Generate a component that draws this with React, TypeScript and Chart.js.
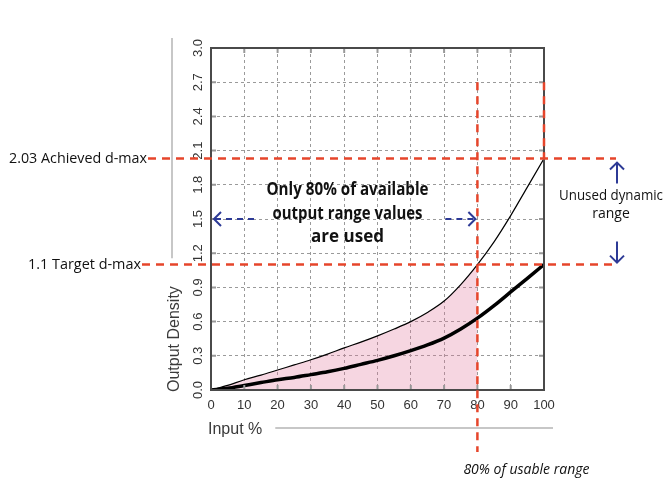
import React, { useEffect, useRef } from "react";
import { Chart, registerables } from "chart.js";

Chart.register(...registerables);

// ---- data ----
const inputPct = [0, 5, 10, 15, 20, 25, 30, 35, 40, 45, 50, 55, 60, 65, 70, 75, 80, 85, 90, 95, 100];
const achievedCurve = [0, 0.04, 0.09, 0.13, 0.175, 0.22, 0.265, 0.315, 0.37, 0.42, 0.475, 0.535, 0.6, 0.68, 0.78, 0.925, 1.1, 1.3, 1.53, 1.78, 2.03];
const targetCurve = [0, 0.015, 0.04, 0.065, 0.09, 0.11, 0.135, 0.16, 0.19, 0.225, 0.26, 0.3, 0.345, 0.395, 0.455, 0.535, 0.63, 0.74, 0.86, 0.98, 1.1];
const xTickValues = [0, 10, 20, 30, 40, 50, 60, 70, 80, 90, 100];
const yTickValues = [0, 0.3, 0.6, 0.9, 1.2, 1.5, 1.8, 2.1, 2.4, 2.7, 3.0];
const achievedDmax = 2.03;
const targetDmax = 1.1;
const usablePct = 80;
const arrowLevel = 1.5;
const centerLines = ["Only 80% of available", "output range values", "are used"];
const unusedLines = ["Unused dynamic", "range"];
const achievedLabel = "2.03 Achieved d-max";
const targetLabel = "1.1 Target d-max";
const usableLabel = "80% of usable range";
const yTitle = "Output Density";
const xTitle = "Input %";

const RED = "#e6452b";
const BLUE = "#2d3a96";
const HAND = "'Open Sans', 'Noto Sans', sans-serif";

function arrowHead(ctx: CanvasRenderingContext2D, x: number, y: number, dir: "l" | "r" | "u" | "d", s = 7) {
  ctx.save();
  ctx.setLineDash([]);
  ctx.beginPath();
  if (dir === "l") { ctx.moveTo(x + s, y - s); ctx.lineTo(x, y); ctx.lineTo(x + s, y + s); }
  if (dir === "r") { ctx.moveTo(x - s, y - s); ctx.lineTo(x, y); ctx.lineTo(x - s, y + s); }
  if (dir === "u") { ctx.moveTo(x - s, y + s); ctx.lineTo(x, y); ctx.lineTo(x + s, y + s); }
  if (dir === "d") { ctx.moveTo(x - s, y - s); ctx.lineTo(x, y); ctx.lineTo(x + s, y - s); }
  ctx.stroke();
  ctx.restore();
}

const overlay = {
  id: "overlay",
  afterDatasetsDraw(chart: any) {
    const { ctx, chartArea: ca, scales } = chart;
    const xs = scales.x, ys = scales.y;
    ctx.save();
    // inner tick marks
    ctx.strokeStyle = "#999";
    ctx.lineWidth = 2;
    yTickValues.forEach((v) => {
      const py = ys.getPixelForValue(v);
      ctx.beginPath();
      ctx.moveTo(ca.left, py); ctx.lineTo(ca.left + 5, py);
      ctx.moveTo(ca.right - 5, py); ctx.lineTo(ca.right, py);
      ctx.stroke();
    });
    xTickValues.forEach((v) => {
      const px = xs.getPixelForValue(v);
      ctx.beginPath();
      ctx.moveTo(px, ca.top); ctx.lineTo(px, ca.top + 5);
      ctx.moveTo(px, ca.bottom - 5); ctx.lineTo(px, ca.bottom);
      ctx.stroke();
    });
    // frame
    ctx.strokeStyle = "#4a4a4a";
    ctx.lineWidth = 2;
    ctx.strokeRect(ca.left, ca.top, ca.right - ca.left, ca.bottom - ca.top);

    // red dashed guide lines
    const yA = ys.getPixelForValue(achievedDmax);
    const yT = ys.getPixelForValue(targetDmax);
    const x80 = xs.getPixelForValue(usablePct);
    const x100 = xs.getPixelForValue(100);
    const yTop = ys.getPixelForValue(2.7);
    ctx.strokeStyle = RED;
    ctx.lineWidth = 2.5;
    ctx.setLineDash([8, 6]);
    const seg = (a: number, b: number, c: number, d: number) => {
      ctx.beginPath(); ctx.moveTo(a, b); ctx.lineTo(c, d); ctx.stroke();
    };
    seg(ca.left - 63, yA, ca.right + 72, yA);
    seg(ca.left - 69, yT, ca.right + 72, yT);
    seg(x80, yTop, x80, ca.bottom + 62);
    seg(x100, yTop, x100, yA);

    // blue arrows
    const yArr = ys.getPixelForValue(arrowLevel);
    ctx.strokeStyle = BLUE;
    ctx.lineWidth = 2;
    ctx.setLineDash([6, 5]);
    seg(ca.left + 4, yArr, ca.left + 48, yArr);
    arrowHead(ctx, ca.left + 3, yArr, "l");
    seg(x80 - 32, yArr, x80 - 3, yArr);
    arrowHead(ctx, x80 - 2, yArr, "r");
    ctx.setLineDash([]);
    const xa = ca.right + 73;
    seg(xa, yA + 4, xa, yA + 25);
    arrowHead(ctx, xa, yA + 4, "u");
    seg(xa, yT - 23, xa, yT - 2);
    arrowHead(ctx, xa, yT - 2, "d");
    ctx.restore();
  },
  afterDraw(chart: any) {
    const { ctx, chartArea: ca, scales } = chart;
    const xs = scales.x, ys = scales.y;
    ctx.save();
    ctx.fillStyle = "#111";
    ctx.textBaseline = "middle";
    // center annotation
    ctx.font = `bold 17px ${HAND}`;
    ctx.textAlign = "center";
    const cx = xs.getPixelForValue(41);
    const cy = [190, 214, 237];
    const cw = [162, 150, 82];
    centerLines.forEach((t, i) => ctx.fillText(t, cx, cy[i], cw[i]));

    // unused dynamic range
    ctx.font = `14px ${HAND}`;
    ctx.fillText(unusedLines[0], ca.right + 67, 196, 104);
    ctx.fillText(unusedLines[1], ca.right + 67, 214, 40);

    // left labels
    ctx.textAlign = "right";
    ctx.font = `15px ${HAND}`;
    ctx.fillText(achievedLabel, ca.left - 64, ys.getPixelForValue(achievedDmax), 138);
    ctx.fillText(targetLabel, ca.left - 70, ys.getPixelForValue(targetDmax), 113);

    // bottom label
    ctx.textAlign = "left";
    ctx.font = `italic 14px ${HAND}`;
    ctx.fillText(usableLabel, xs.getPixelForValue(usablePct) - 14, ca.bottom + 80, 131);

    // axis titles with trailing rules
    ctx.fillStyle = "#3a3a3a";
    ctx.font = "16px 'Liberation Sans', Arial, sans-serif";
    ctx.textAlign = "left";
    const xw = ctx.measureText(xTitle).width;
    ctx.fillText(xTitle, ca.left - 3, ca.bottom + 40);
    ctx.strokeStyle = "#b5b5b5";
    ctx.lineWidth = 1.5;
    ctx.beginPath();
    ctx.moveTo(ca.left - 3 + xw + 13, ca.bottom + 38);
    ctx.lineTo(ca.right + 9, ca.bottom + 38);
    ctx.stroke();

    const yw = ctx.measureText(yTitle).width;
    ctx.save();
    ctx.translate(ca.left - 36, ca.bottom + 2);
    ctx.rotate(-Math.PI / 2);
    ctx.fillText(yTitle, 0, 0);
    ctx.restore();
    ctx.beginPath();
    ctx.moveTo(ca.left - 39, ca.bottom + 2 - yw - 28);
    ctx.lineTo(ca.left - 39, ca.top - 10);
    ctx.stroke();
    ctx.restore();
  },
};

export default function App() {
  const ref = useRef<HTMLCanvasElement>(null);
  useEffect(() => {
    document.body.style.margin = "0";
    const pts = (ys: number[]) => inputPct.map((x, i) => ({ x, y: ys[i] }));
    const fillPts = inputPct
      .map((x, i) => ({ x, y: achievedCurve[i] }))
      .filter((p) => p.x <= usablePct);
    const chart = new Chart(ref.current!, {
      type: "line",
      data: {
        datasets: [
          {
            data: pts(targetCurve),
            borderColor: "#000",
            borderWidth: 3.5,
            pointRadius: 0,
            cubicInterpolationMode: "monotone",
            fill: false,
          },
          {
            data: pts(achievedCurve),
            borderColor: "#000",
            borderWidth: 1.2,
            pointRadius: 0,
            cubicInterpolationMode: "monotone",
            fill: false,
          },
          {
            data: fillPts,
            borderWidth: 0,
            borderColor: "rgba(0,0,0,0)",
            backgroundColor: "rgba(225,120,155,0.3)",
            pointRadius: 0,
            cubicInterpolationMode: "monotone",
            fill: "origin",
          },
        ],
      },
      options: {
        responsive: false,
        animation: false,
        layout: { padding: { left: 165, top: 48, right: 126, bottom: 0 } },
        plugins: { legend: { display: false }, tooltip: { enabled: false } },
        scales: {
          x: {
            type: "linear",
            min: 0,
            max: 100,
            afterBuildTicks: (s: any) => { s.ticks = xTickValues.map((v) => ({ value: v })); },
            afterFit: (s: any) => { s.height = 113; },
            grid: { color: "#9a9a9a", lineWidth: 1, drawTicks: false },
            border: { display: false, dash: [3, 3] },
            ticks: {
              padding: 8,
              color: "#333",
              font: { family: "'Liberation Sans', Arial, sans-serif", size: 13 },
              maxRotation: 0,
              minRotation: 0,
            },
          },
          y: {
            type: "linear",
            min: 0,
            max: 3,
            afterBuildTicks: (s: any) => { s.ticks = yTickValues.map((v) => ({ value: v })); },
            afterFit: (s: any) => { s.width = 46; },
            grid: { color: "#9a9a9a", lineWidth: 1, drawTicks: false },
            border: { display: false, dash: [3, 3] },
            ticks: {
              padding: 4,
              color: "#333",
              crossAlign: "center",
              minRotation: 90,
              maxRotation: 90,
              font: { family: "'Liberation Sans', Arial, sans-serif", size: 13 },
              callback: (v: any) => Number(v).toFixed(1),
            },
          },
        },
      },
      plugins: [overlay],
    });
    return () => chart.destroy();
  }, []);
  return <canvas ref={ref} width={670} height={503} style={{ display: "block" }} />;
}
